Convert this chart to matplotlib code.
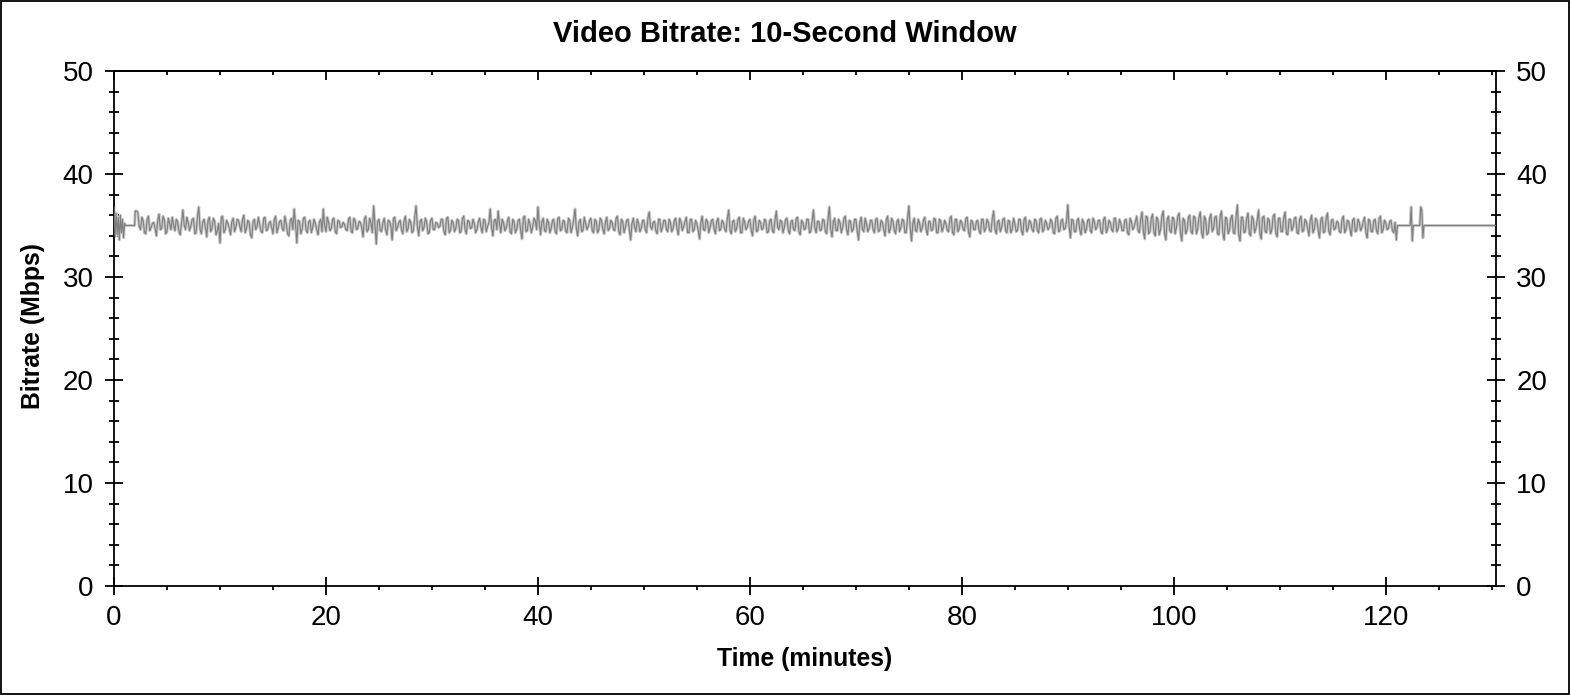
import matplotlib
matplotlib.use("Agg")
import matplotlib.pyplot as plt
import numpy as np
from matplotlib.ticker import MultipleLocator
from matplotlib.patches import Rectangle

plt.rcParams['font.family'] = ['Liberation Sans', 'DejaVu Sans']

title = "Video Bitrate: 10-Second Window"
xlabel = "Time (minutes)"
ylabel = "Bitrate (Mbps)"

# opening section (minutes, Mbps)
intro_t = [0.0, 0.1, 0.2, 0.3, 0.4, 0.5, 0.6, 0.7, 0.8, 0.9, 1.0, 1.1, 1.95]
intro_v = [36.8, 33.9, 36.2, 34.1, 35.8, 33.6, 36.0, 34.3, 35.6, 33.8, 35.2, 35.0, 35.0]

# main section, samples every 0.25 min starting at 2.0 min
main_start = 2.0
main_step = 0.25
main_v = [
    36.4, 36.3, 34.6, 35.5, 34.2, 35.9, 34.8, 35.3, 34.0, 36.1, 34.7, 35.6, 34.4, 35.2, 35.8, 34.5, 35.4, 34.1, 36.5, 34.6,
    35.3, 34.9, 35.7, 34.3, 36.8, 34.2, 35.6, 33.9, 35.8, 34.7, 35.4, 34.5, 33.3, 35.9, 34.6, 35.2, 34.1, 35.7, 34.8, 35.5,
    34.4, 36.0, 34.7, 35.3, 33.8, 35.6, 34.9, 35.1, 34.3, 35.8, 34.6, 35.4, 34.2, 35.9, 34.8, 35.5, 34.5, 35.2, 34.0, 35.7,
    36.6, 33.3, 35.4, 34.6, 35.8, 34.3, 35.5, 34.8, 35.2, 34.1, 35.6, 36.6, 34.4, 35.3, 34.7, 35.7, 34.2, 35.4, 34.9, 35.1,
    34.5, 35.8, 34.3, 35.5, 34.7, 35.3, 33.9, 35.9, 34.6, 35.2, 36.9, 33.2, 35.6, 34.4, 35.7, 34.1, 35.4, 33.6, 35.8, 34.8,
    35.5, 34.2, 35.9, 34.7, 35.3, 34.5, 36.9, 34.0, 35.6, 34.8, 35.4, 34.3, 35.7, 34.6, 35.2, 34.9, 35.6, 34.1, 35.8, 34.5,
    35.3, 34.7, 35.5, 34.4, 35.9, 34.2, 35.4, 34.8, 35.2, 34.6, 35.7, 34.3, 35.5, 34.9, 36.6, 34.0, 35.6, 36.4, 34.3, 35.3,
    34.7, 35.8, 34.2, 35.4, 34.6, 35.6, 33.7, 35.9, 34.5, 35.2, 34.8, 35.5, 36.8, 34.1, 35.7, 34.4, 35.3, 34.7, 35.6, 34.2,
    35.8, 34.6, 35.4, 34.3, 35.5, 34.8, 36.6, 34.0, 35.6, 34.5, 35.2, 34.9, 35.7, 34.3, 35.4, 34.6, 35.5, 34.2, 35.8, 34.7,
    35.3, 34.5, 35.9, 34.1, 35.4, 34.8, 35.6, 33.6, 35.7, 34.4, 35.2, 34.7, 35.5, 34.3, 36.3, 34.6, 35.4, 34.2, 35.6, 34.8,
    35.5, 34.4, 35.3, 34.7, 35.7, 34.1, 35.4, 34.9, 35.8, 34.3, 35.6, 34.6, 35.2, 33.7, 35.9, 34.5, 35.4, 34.8, 35.6, 34.2,
    35.7, 34.6, 35.3, 34.4, 36.5, 34.2, 35.5, 34.7, 35.8, 34.3, 35.4, 34.8, 35.6, 34.0, 35.9, 34.5, 35.3, 34.7, 35.5, 34.4,
    35.6, 34.3, 36.4, 34.6, 35.4, 34.8, 35.7, 34.2, 35.5, 34.5, 35.8, 34.1, 35.3, 34.7, 35.6, 34.4, 36.5, 34.3, 35.4, 34.6,
    35.5, 34.2, 36.8, 33.9, 35.7, 34.5, 35.3, 34.8, 35.9, 34.1, 35.4, 34.6, 35.6, 33.6, 35.8, 34.4, 35.2, 34.7, 35.5, 34.3,
    35.7, 34.5, 35.3, 34.0, 35.9, 34.6, 35.4, 34.2, 35.6, 34.8, 35.5, 34.3, 36.9, 33.5, 35.7, 34.4, 35.3, 34.7, 35.8, 34.1,
    35.4, 34.6, 35.6, 34.3, 35.5, 34.8, 35.2, 34.4, 35.9, 34.1, 35.6, 34.7, 35.3, 34.5, 35.8, 33.9, 35.4, 34.6, 35.5, 34.2,
    35.6, 34.7, 35.3, 34.4, 36.4, 34.2, 35.5, 34.8, 35.7, 34.3, 35.4, 34.6, 35.2, 34.5, 35.6, 34.1, 35.8, 34.7, 35.3, 34.4,
    35.5, 34.3, 35.7, 34.6, 35.2, 34.8, 35.4, 34.2, 35.9, 34.5, 35.6, 34.7, 37.0, 33.8, 35.5, 34.4, 35.7, 34.1, 35.3, 34.6,
    35.6, 34.3, 35.4, 34.8, 35.5, 34.2, 35.8, 34.6, 35.3, 34.4, 35.7, 34.7, 35.2, 34.5, 35.6, 34.1, 35.4, 34.8, 35.9, 34.3,
    36.3, 33.7, 35.8, 34.4, 36.1, 34.0, 35.6, 34.6, 36.4, 33.6, 35.9, 34.3, 35.7, 34.8, 36.2, 33.5, 35.5, 34.5, 36.0, 34.2,
    35.8, 34.6, 36.3, 33.8, 35.6, 34.3, 36.1, 34.7, 35.9, 34.1, 36.4, 33.6, 35.7, 34.5, 36.0, 34.2, 37.0, 33.5, 35.8, 34.4,
    36.2, 34.0, 35.6, 34.7, 36.5, 33.7, 35.9, 34.3, 35.5, 34.6, 36.1, 33.9, 35.7, 34.4, 36.3, 34.1, 35.6, 34.8, 35.8, 34.2,
    35.9, 34.5, 35.4, 34.0, 36.0, 34.6, 35.5, 33.8, 35.8, 34.4, 36.2, 34.1, 35.6, 34.7, 35.3, 34.3, 35.9, 34.6, 35.4, 34.0,
    35.7, 34.5, 35.3, 34.8, 35.8, 33.8, 35.5, 34.4, 35.6, 34.2, 35.9, 34.6, 35.3, 34.7, 35.5, 34.3, 33.6,
]

# main section, in-between samples every 0.25 min starting at 2.125 min
mid_start = 2.125
mid_step = 0.25
mid_v = [
    36.4, 34.9, 35.8, 34.3, 35.6, 34.5, 35.2, 34.7, 35.5, 34.6, 35.9, 34.2, 35.7, 34.6, 35.0, 35.6, 34.4, 35.3, 35.0, 35.8,
    34.5, 35.6, 34.2, 35.9, 34.6, 35.3, 34.8, 35.5, 34.4, 35.7, 34.1, 35.2, 35.8, 34.3, 35.5, 34.7, 35.4, 34.4, 35.6, 34.9,
    35.6, 34.3, 35.5, 34.1, 35.4, 34.6, 35.8, 34.4, 35.7, 34.5, 35.2, 34.8, 35.6, 34.3, 35.4, 34.7, 35.9, 34.2, 35.5, 34.6,
    35.2, 35.5, 34.2, 35.7, 34.5, 35.4, 34.3, 35.6, 34.6, 35.3, 34.4, 35.0, 35.8, 34.5, 35.6, 34.4, 35.5, 34.8, 35.3, 34.6,
    35.6, 34.4, 35.7, 34.6, 35.4, 34.8, 35.6, 34.4, 35.7, 34.3, 35.1, 35.4, 34.5, 35.3, 34.6, 35.5, 34.9, 35.7, 34.5, 35.3,
    34.6, 35.5, 34.4, 35.6, 34.3, 35.8, 34.9, 35.4, 34.5, 35.7, 34.2, 35.5, 34.6, 35.3, 34.8, 35.6, 34.4, 35.7, 34.3, 35.5,
    34.4, 35.6, 34.3, 35.7, 34.6, 35.5, 34.7, 35.6, 34.3, 35.4, 34.8, 35.6, 34.4, 35.3, 34.8, 35.5, 34.6, 35.2, 35.6, 34.5,
    35.5, 34.4, 35.6, 34.3, 35.5, 34.5, 35.8, 34.4, 35.6, 34.3, 35.7, 34.6, 35.2, 35.4, 34.5, 35.6, 34.3, 35.5, 34.4, 35.7,
    34.5, 35.5, 34.4, 35.7, 34.3, 35.6, 34.7, 35.3, 34.4, 35.8, 34.6, 35.5, 34.5, 35.6, 34.3, 35.7, 34.6, 35.4, 34.5, 35.5,
    34.6, 35.7, 34.4, 35.6, 34.3, 35.5, 34.6, 35.2, 34.8, 35.6, 34.4, 35.5, 34.6, 35.7, 34.9, 35.3, 34.5, 35.6, 34.4, 35.5,
    34.6, 35.6, 34.4, 35.5, 34.6, 35.7, 34.5, 35.4, 34.3, 35.6, 34.4, 35.5, 34.5, 35.3, 34.6, 35.6, 34.3, 35.5, 34.6, 35.4,
    34.5, 35.5, 34.6, 35.7, 34.5, 35.4, 34.4, 35.6, 34.3, 35.7, 34.6, 35.4, 34.5, 35.6, 34.4, 35.5, 34.6, 35.6, 34.3, 35.5,
    34.5, 35.6, 34.8, 35.5, 34.3, 35.6, 34.5, 35.4, 34.6, 35.7, 34.4, 35.5, 34.6, 35.6, 34.3, 35.5, 34.8, 35.4, 34.5, 35.6,
    34.4, 35.7, 34.6, 35.4, 34.5, 35.6, 34.3, 35.7, 34.6, 35.5, 34.4, 35.6, 34.5, 35.3, 34.6, 35.7, 34.4, 35.5, 34.6, 35.6,
    34.4, 35.5, 34.6, 35.6, 34.3, 35.7, 34.5, 35.4, 34.4, 35.6, 34.3, 35.7, 34.8, 35.2, 34.5, 35.6, 34.4, 35.5, 34.6, 35.4,
    34.5, 35.7, 34.3, 35.6, 34.4, 35.5, 34.5, 35.7, 34.3, 35.6, 34.4, 35.5, 34.6, 35.7, 34.4, 35.5, 34.6, 35.4, 34.5, 35.6,
    34.4, 35.6, 34.5, 35.7, 34.6, 35.4, 34.4, 35.6, 34.5, 35.5, 34.3, 35.7, 34.4, 35.6, 34.5, 35.6, 34.4, 35.5, 34.6, 35.6,
    34.5, 35.6, 34.4, 35.5, 34.6, 35.6, 34.3, 35.7, 34.4, 35.5, 34.6, 35.4, 34.8, 35.6, 34.4, 35.5, 34.6, 35.6, 34.3, 35.5,
    34.5, 35.7, 34.6, 35.5, 34.4, 35.6, 34.3, 35.5, 34.6, 35.7, 34.4, 35.6, 34.5, 35.5, 34.3, 35.7, 34.6, 35.4, 34.5, 35.6,
    34.4, 35.9, 34.2, 35.7, 34.3, 35.8, 34.1, 35.9, 34.2, 35.6, 34.5, 35.8, 34.2, 35.9, 34.3, 35.7, 34.2, 35.8, 34.4, 35.9,
    34.2, 35.8, 34.3, 35.9, 34.1, 35.7, 34.4, 35.8, 34.2, 35.9, 34.3, 35.8, 34.2, 35.7, 34.3, 35.9, 34.1, 35.8, 34.3, 35.7,
    34.2, 35.9, 34.3, 35.6, 34.2, 35.8, 34.4, 35.7, 34.2, 35.9, 34.3, 35.7, 34.4, 35.8, 34.2, 35.6, 34.5, 35.7, 34.3, 35.6,
    34.4, 35.6, 34.7, 35.5, 34.3, 35.7, 34.5, 35.6, 34.3, 35.8, 34.4, 35.5, 34.6, 35.4, 34.4, 35.6, 34.3, 35.5, 34.6, 35.5,
    34.4, 35.6, 34.5, 35.4, 34.3, 35.6, 34.4, 35.5, 34.5, 35.7, 34.3, 35.5, 34.6, 35.4, 34.5, 35.3,
]

# closing section (minutes, Mbps)
tail_t = [121.1, 122.3, 122.4, 122.5, 122.6, 123.2, 123.3, 123.4, 123.5, 123.6, 130.4]
tail_v = [35.0, 35.0, 36.8, 33.5, 35.0, 35.0, 36.8, 36.5, 33.8, 35.0, 35.0]

xmax = 130.4
ymax = 50

main_t = [main_start + main_step * i for i in range(len(main_v))]
mid_t = [mid_start + mid_step * i for i in range(len(mid_v))]
t = np.array(intro_t + main_t + mid_t + tail_t)
v = np.array(intro_v + main_v + mid_v + tail_v)
order = np.argsort(t, kind='stable')
t, v = t[order], v[order]

fig = plt.figure(figsize=(15.7, 6.95), dpi=100)
ax = fig.add_axes([114 / 1570, 1 - 586 / 695, (1496 - 114) / 1570, (586 - 71) / 695])

ax.plot(t, v, color='#cccccc', lw=2.2, zorder=2)
ax.plot(t, v, color='#7f7f7f', lw=0.85, zorder=3)

ax.set_xlim(0, xmax)
ax.set_ylim(0, ymax)

for s in ax.spines.values():
    s.set_linewidth(1.3)
    s.set_color('black')

ax.xaxis.set_major_locator(MultipleLocator(20))
ax.xaxis.set_minor_locator(MultipleLocator(5))
ax.yaxis.set_major_locator(MultipleLocator(10))
ax.yaxis.set_minor_locator(MultipleLocator(2))

ax.tick_params(axis='x', which='major', direction='inout', length=13, width=1.3,
               top=False, bottom=True, labelsize=20, pad=7)
ax.tick_params(axis='x', which='minor', direction='out', length=3.2, width=1.3,
               top=False, bottom=True)
ax.tick_params(axis='y', which='major', direction='inout', length=13, width=1.3,
               left=True, right=True, labelleft=True, labelright=True, labelsize=20, pad=8)
ax.tick_params(axis='y', which='minor', direction='inout', length=6.5, width=1.3,
               left=True, right=True)

sec = ax.secondary_xaxis('top')
sec.xaxis.set_major_locator(MultipleLocator(20))
sec.xaxis.set_minor_locator(MultipleLocator(5))
sec.tick_params(axis='x', which='major', direction='in', length=6.5, width=1.3, labeltop=False)
sec.tick_params(axis='x', which='minor', direction='in', length=3.2, width=1.3)
sec.spines['top'].set_linewidth(1.3)

fig.text(0.5, 1 - 34 / 695, title, ha='center', va='center', fontsize=21, fontweight='bold')
fig.text(805 / 1570, 1 - 659 / 695, xlabel, ha='center', va='center', fontsize=17.8, fontweight='bold')
fig.text(33 / 1570, 1 - 326 / 695, ylabel, ha='center', va='center', fontsize=17.8,
         fontweight='bold', rotation=90)

fig.patches.append(Rectangle((0.0008, 0.0015), 0.9984, 0.997, transform=fig.transFigure,
                             fill=False, edgecolor='black', lw=1.3))

fig.savefig("out.png", dpi=100)
